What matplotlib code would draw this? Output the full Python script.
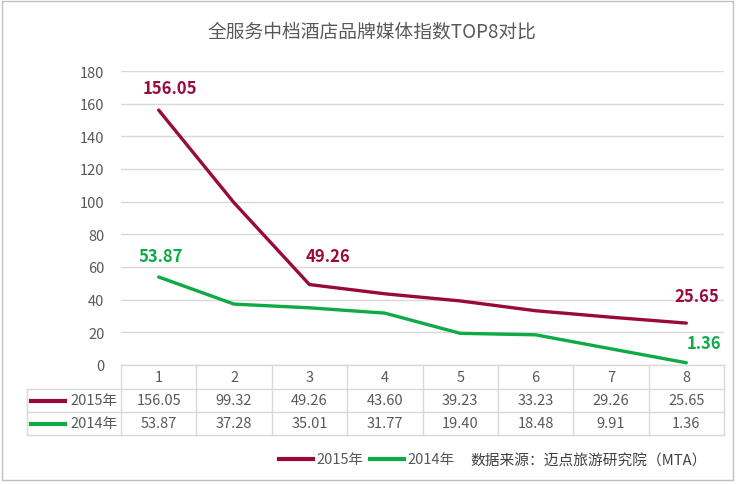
import matplotlib
matplotlib.use('Agg')
import matplotlib.pyplot as plt
from matplotlib.patches import Rectangle
from matplotlib.lines import Line2D

plt.rcParams['font.family'] = ['Noto Sans CJK SC', 'DejaVu Sans']

# data
ranks = [1, 2, 3, 4, 5, 6, 7, 8]
idx_2015 = [156.05, 99.32, 49.26, 43.60, 39.23, 33.23, 29.26, 25.65]
idx_2014 = [53.87, 37.28, 35.01, 31.77, 19.40, 18.48, 9.91, 1.36]
series_names = ['2015年', '2014年']
yticks = [0, 20, 40, 60, 80, 100, 120, 140, 160, 180]

# which points carry a value label, and the label offset in pixels
labels_2015 = {0: (11, 22), 2: (19, 29), 7: (10, 27)}
labels_2014 = {0: (2, 21), 7: (18, 20)}

c15 = '#990A3A'
c14 = '#0DAA46'
grey_txt = '#595959'
grid_c = '#D9D9D9'

W, H = 737, 485
fig = plt.figure(figsize=(W / 100, H / 100), dpi=100)

def fx(px):
    return px / W

def fy(py):
    return 1 - py / H

# frame round the whole picture
fig.patches.append(Rectangle((fx(2), fy(481)), fx(731), 479 / H, transform=fig.transFigure,
                             fill=False, edgecolor='#BFBFBF', lw=1))

ax = fig.add_axes([fx(121), fy(366), fx(724) - fx(121), fy(72) - fy(366)])
ax.plot(ranks, idx_2015, color=c15, lw=2.4, solid_capstyle='round')
ax.plot(ranks, idx_2014, color=c14, lw=2.4, solid_capstyle='round')
ax.set_xlim(0.5, 8.5)
ax.set_ylim(0, 180)
ax.set_yticks(yticks)
ax.set_yticklabels([str(v) for v in yticks], fontsize=10.5, color=grey_txt)
ax.set_xticks([])
ax.tick_params(axis='y', length=0, pad=12)
for s in ax.spines.values():
    s.set_visible(False)
ax.yaxis.grid(True, color=grid_c, lw=1)
ax.set_axisbelow(True)

for i, off in labels_2015.items():
    ax.annotate(f'{idx_2015[i]:.2f}', (ranks[i], idx_2015[i]), xytext=off,
                textcoords='offset pixels', ha='center', va='center',
                fontsize=12, fontweight='bold', color=c15)
for i, off in labels_2014.items():
    ax.annotate(f'{idx_2014[i]:.2f}', (ranks[i], idx_2014[i]), xytext=off,
                textcoords='offset pixels', ha='center', va='center',
                fontsize=12, fontweight='bold', color=c14)

fig.text(fx(372), fy(32), '全服务中档酒店品牌媒体指数TOP8对比', ha='center', va='center',
         fontsize=13.5, color=grey_txt)

# data table under the plot
tbl_left, plot_left, tbl_right = 27, 121, 724
rows_y = [366, 390, 413, 436]
col_w = (tbl_right - plot_left) / len(ranks)
tf = fig.transFigure
fig.add_artist(Line2D([fx(plot_left), fx(tbl_right)], [fy(rows_y[0])] * 2, transform=tf, color=grid_c, lw=1))
for yy in rows_y[1:]:
    fig.add_artist(Line2D([fx(tbl_left), fx(tbl_right)], [fy(yy)] * 2, transform=tf, color=grid_c, lw=1))
fig.add_artist(Line2D([fx(tbl_left)] * 2, [fy(rows_y[1]), fy(rows_y[3])], transform=tf, color=grid_c, lw=1))
for k in range(len(ranks) + 1):
    xx = plot_left + k * col_w
    fig.add_artist(Line2D([fx(xx)] * 2, [fy(rows_y[0]), fy(rows_y[3])], transform=tf, color=grid_c, lw=1))

for k, r in enumerate(ranks):
    cx = fx(plot_left + (k + 0.5) * col_w)
    fig.text(cx, fy((rows_y[0] + rows_y[1]) / 2), str(r), ha='center', va='center',
             fontsize=10.5, color=grey_txt)
    fig.text(cx, fy((rows_y[1] + rows_y[2]) / 2), f'{idx_2015[k]:.2f}', ha='center', va='center',
             fontsize=10.5, color=grey_txt)
    fig.text(cx, fy((rows_y[2] + rows_y[3]) / 2), f'{idx_2014[k]:.2f}', ha='center', va='center',
             fontsize=10.5, color=grey_txt)

for j, (name, col) in enumerate(zip(series_names, [c15, c14])):
    cy = fy((rows_y[j + 1] + rows_y[j + 2]) / 2)
    fig.add_artist(Line2D([fx(31), fx(65)], [cy, cy], transform=tf, color=col, lw=3))
    fig.text(fx(118), cy, name, ha='right', va='center', fontsize=10.5, color=grey_txt)

# legend at the bottom
leg_y = fy(460)
fig.add_artist(Line2D([fx(279), fx(313)], [leg_y, leg_y], transform=tf, color=c15, lw=3))
fig.text(fx(316), leg_y, series_names[0], ha='left', va='center', fontsize=10.5, color=grey_txt)
fig.add_artist(Line2D([fx(370), fx(404)], [leg_y, leg_y], transform=tf, color=c14, lw=3))
fig.text(fx(407), leg_y, series_names[1], ha='left', va='center', fontsize=10.5, color=grey_txt)

fig.text(fx(707), fy(462), '数据来源：迈点旅游研究院（MTA）', ha='right', va='center',
         fontsize=10.6, color='#404040')

fig.savefig('out.png', dpi=100)
